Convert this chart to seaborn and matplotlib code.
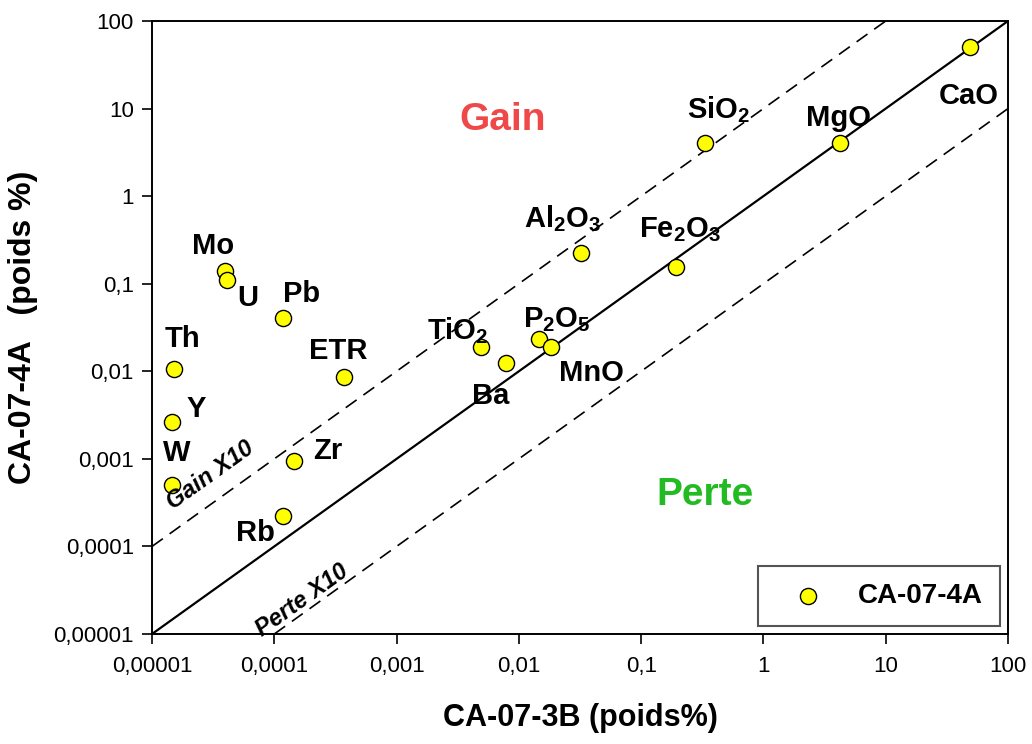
import numpy as np
import pandas as pd
import seaborn as sns
import matplotlib.pyplot as plt

# teneurs (poids %)
elements = ['CaO', 'MgO', 'SiO2', 'Al2O3', 'Fe2O3', 'TiO2', 'Ba', 'P2O5', 'MnO',
            'ETR', 'Pb', 'Mo', 'U', 'Th', 'Y', 'W', 'Zr', 'Rb']
ca_07_3b = [49, 4.2, 0.33, 0.032, 0.193, 0.0049, 0.0078, 0.0146, 0.0183,
            0.00037, 0.000118, 0.0000396, 0.0000410, 0.0000151, 0.0000146, 0.0000146, 0.000145, 0.000118]
ca_07_4a = [50, 4.0, 4.0, 0.225, 0.155, 0.019, 0.0125, 0.0234, 0.019,
            0.0086, 0.041, 0.14, 0.11, 0.0106, 0.00264, 0.000505, 0.00095, 0.000223]

tick_vals = [1e-5, 1e-4, 1e-3, 1e-2, 1e-1, 1, 10, 100]
tick_labels = ['0,00001', '0,0001', '0,001', '0,01', '0,1', '1', '10', '100']
ratios = [1, 10, 0.1]   # y = k * x

df = pd.DataFrame({'el': elements, 'x': ca_07_3b, 'y': ca_07_4a})

sns.set_theme(style='white')
plt.rcParams['font.family'] = ['Liberation Sans', 'DejaVu Sans']
plt.rcParams['text.color'] = 'black'
plt.rcParams['mathtext.fontset'] = 'custom'
plt.rcParams['mathtext.rm'] = 'Liberation Sans'
plt.rcParams['mathtext.bf'] = 'Liberation Sans:bold'

fig = plt.figure(figsize=(10.32, 7.44), dpi=100)
ax = fig.add_axes([152/1032, 1-634/744, 856/1032, 613/744])
ax.set_xscale('log')
ax.set_yscale('log')
ax.set_xlim(1e-5, 100)
ax.set_ylim(1e-5, 100)

# droites 1:1, gain x10, perte x10
for k in ratios:
    ls = '-' if k == 1 else (0, (8, 5))
    lw = 1.6 if k == 1 else 1.2
    ax.axline((1, k), (10, 10*k), color='black', lw=lw, ls=ls, zorder=1)

sns.scatterplot(data=df, x='x', y='y', ax=ax, color='#ffff00', edgecolor='black',
                linewidth=1, s=135, label='CA-07-4A', zorder=3)

# etiquettes (decalage en points)
offsets = {'CaO': (-1, -35), 'MgO': (-1, 18), 'SiO2': (10, 24), 'Al2O3': (-13, 25),
           'Fe2O3': (3, 27), 'TiO2': (-17, 12), 'Ba': (-11, -24), 'P2O5': (13, 14),
           'MnO': (29, -19), 'ETR': (-4, 19), 'Pb': (13, 17), 'Mo': (-9, 18),
           'U': (15, -13), 'Th': (6, 22), 'Y': (17, 9), 'W': (3, 23), 'Zr': (24, 7),
           'Rb': (-20, -12)}
pretty = {'SiO2': r'$\mathbf{SiO_2}$', 'Al2O3': r'$\mathbf{Al_2O_3}$',
          'Fe2O3': r'$\mathbf{Fe_2O_3}$', 'TiO2': r'$\mathbf{TiO_2}$',
          'P2O5': r'$\mathbf{P_2O_5}$'}
for el, x, y in zip(elements, ca_07_3b, ca_07_4a):
    ax.annotate(pretty.get(el, el), (x, y), xytext=offsets[el], textcoords='offset points',
                ha='center', va='center', fontsize=21, fontweight='bold', color='black')

ax.text(0.41, 0.838, 'Gain', transform=ax.transAxes, ha='center', va='center',
        fontsize=28, fontweight='bold', color='#f04848')
ax.text(0.646, 0.227, 'Perte', transform=ax.transAxes, ha='center', va='center',
        fontsize=28, fontweight='bold', color='#22bb22')

# angle des droites a l'ecran
p0 = ax.transData.transform((1e-3, 1e-3))
p1 = ax.transData.transform((1e-2, 1e-2))
ang = np.degrees(np.arctan2(p1[1]-p0[1], p1[0]-p0[0]))
s, c = np.sin(np.radians(ang)), np.cos(np.radians(ang))
for txt, xl, k, d in [('Gain X10', 3.9e-5, 10, 17), ('Perte X10', 1.9e-4, 0.1, 8)]:
    ax.annotate(txt, (xl, k*xl), xytext=(-s*d, c*d), textcoords='offset points',
                rotation=ang, rotation_mode='anchor', ha='center', va='center',
                fontsize=17, fontweight='bold', fontstyle='italic', color='black')

ax.set_xticks(tick_vals)
ax.set_xticklabels(tick_labels)
ax.set_yticks(tick_vals)
ax.set_yticklabels(tick_labels)
ax.minorticks_off()
ax.tick_params(axis='both', which='major', direction='out', length=7, width=1.2,
               color='black', labelsize=16, labelcolor='black', pad=6,
               bottom=True, left=True)
ax.tick_params(axis='x', pad=9)
for sp in ax.spines.values():
    sp.set_color('black')
    sp.set_linewidth(1.4)

ax.set_xlabel('CA-07-3B (poids%)', fontsize=22, fontweight='bold', color='black')
ax.set_ylabel('CA-07-4A   (poids %)', fontsize=23, fontweight='bold', color='black')
ax.xaxis.set_label_coords(0.5, -0.112)
ax.yaxis.set_label_coords(-0.133, 0.5)
ax.xaxis.label.set_va('top')

leg = ax.legend(loc='lower right', frameon=True, fancybox=False,
                borderpad=0.6, handlelength=2.4, handletextpad=0.6, borderaxespad=0.3,
                prop={'weight': 'bold', 'size': 20})
leg.get_frame().set_edgecolor('#555555')
leg.get_frame().set_linewidth(1.5)
leg.get_frame().set_alpha(1)
for t in leg.get_texts():
    t.set_color('black')

fig.savefig('out.png', dpi=100)
